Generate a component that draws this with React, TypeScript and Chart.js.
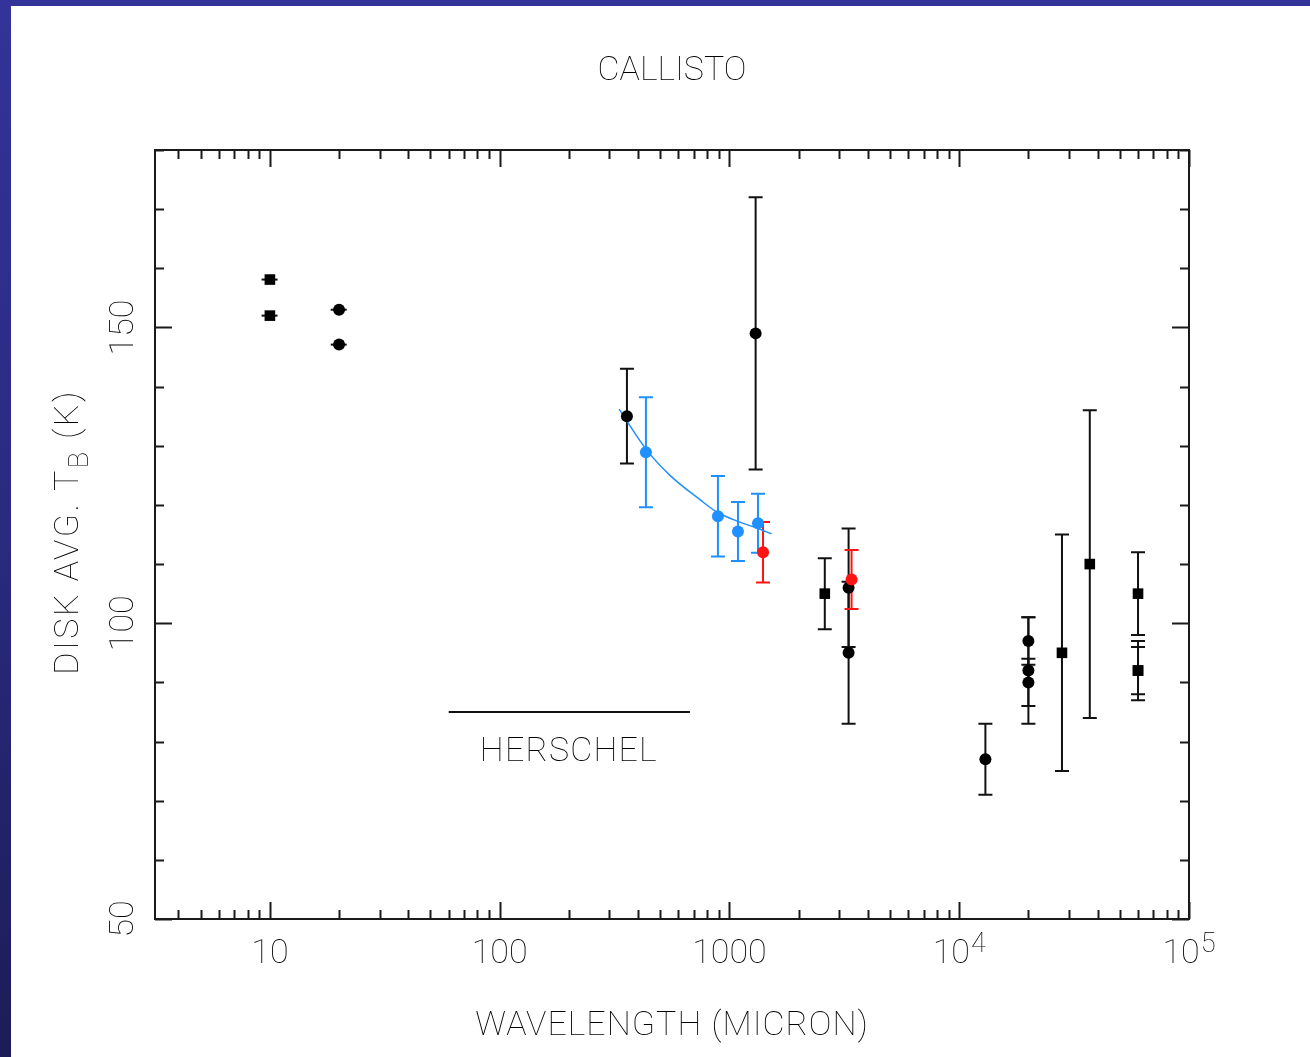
import React, { useEffect, useRef } from "react";
import { Chart, registerables } from "chart.js";

Chart.register(...registerables);

// ---------- text ----------
const CHART_TITLE = "CALLISTO";
const X_AXIS_TITLE = "WAVELENGTH (MICRON)";
const Y_AXIS_TITLE_MAIN = "DISK AVG. T";
const Y_AXIS_TITLE_SUB = "B";
const Y_AXIS_TITLE_END = " (K)";
const HERSCHEL_LABEL = "HERSCHEL";

// ---------- axes ----------
const X_MIN = 3.1623;
const X_MAX = 100000;
const Y_MIN = 50;
const Y_MAX = 180;
const X_TICK_VALUES = [10, 100, 1000, 10000, 100000];
const X_TICK_BASES = ["10", "100", "1000", "10", "10"];
const X_TICK_EXPONENTS = ["", "", "", "4", "5"];
const Y_TICK_VALUES = [50, 100, 150];
const Y_TICK_LABELS = ["50", "100", "150"];
const Y_MINOR_STEP = 10;

// ---------- data ----------
// black circles
const circleWavelength = [20, 20, 358, 1300, 3300, 3300, 13000, 20000, 20000, 20000];
const circleTemp = [153.0, 147.1, 135.0, 149.0, 106.0, 95.0, 77.0, 97.0, 92.0, 90.0];
const circleErr = [0, 0, 8, 23, 10, 12, 6, 4, 9, 4];
const circleWavelengthErr = [1.6, 1.6, 0, 0, 0, 0, 0, 0, 0, 0];

// black squares
const squareWavelength = [10, 10, 2600, 28000, 37000, 60000, 60000, 60000];
const squareTemp = [158.1, 152.0, 105.0, 95.0, 110.0, 105.0, 92.0, 92.0];
const squareErr = [0, 0, 6, 20, 26, 7, 5, 4];
const squareWavelengthErr = [0.8, 0.8, 0, 0, 0, 0, 0, 0];

// blue (Herschel)
const blueWavelength = [433, 891, 1089, 1331];
const blueTemp = [128.9, 118.1, 115.5, 116.9];
const blueErr = [9.3, 6.8, 5.0, 5.0];

// red
const redWavelength = [1400, 3400];
const redTemp = [112.0, 107.4];
const redErr = [5.1, 5.0];

// blue model curve
const modelWavelength = [331, 436, 551, 744, 880, 1111, 1313, 1527];
const modelTemp = [136.2, 129.3, 125.0, 120.9, 118.8, 117.1, 116.1, 115.1];

// Herschel range bar
const herschelWavelength = [60, 673];
const herschelTemp = [85, 85];
const herschelLabelWavelength = 200;
const herschelLabelTemp = 78.9;

const BLACK = "#111111";
const BLUE = "#1e90ff";
const RED = "#ff1414";
const FONT_FAMILY = "Roboto, 'Liberation Sans', sans-serif";
const FONT_WEIGHT = 100;
const FONT_SIZE = 34;

const pts = (xs: number[], ys: number[]) => xs.map((x, i) => ({ x, y: ys[i] }));

const decorPlugin = {
  id: "decor",
  beforeDatasetsDraw(chart: any) {
    const ctx = chart.ctx;
    const xs = chart.scales.x;
    const ys = chart.scales.y;
    const cap = 7;
    const all = chart.data.datasets;
    const list: number[] = [];
    all.forEach((d: any, i: number) => { if (d.errY) list.push(i); });
    list.sort((a, b) => (all[b].errOrder ?? 0) - (all[a].errOrder ?? 0));
    ctx.save();
    for (const i of list) {
      const ds = all[i];
      ctx.strokeStyle = ds.errColor;
      ctx.lineWidth = 2;
      ds.data.forEach((p: any, j: number) => {
        const e = ds.errY[j];
        const px = xs.getPixelForValue(p.x);
        if (e > 0) {
          const yt = ys.getPixelForValue(p.y + e);
          const yb = ys.getPixelForValue(p.y - e);
          ctx.beginPath();
          ctx.moveTo(px, yt);
          ctx.lineTo(px, yb);
          ctx.moveTo(px - cap, yt);
          ctx.lineTo(px + cap, yt);
          ctx.moveTo(px - cap, yb);
          ctx.lineTo(px + cap, yb);
          ctx.stroke();
        }
        const ex = ds.errX ? ds.errX[j] : 0;
        if (ex > 0) {
          const py = ys.getPixelForValue(p.y);
          ctx.beginPath();
          ctx.moveTo(xs.getPixelForValue(p.x - ex), py);
          ctx.lineTo(xs.getPixelForValue(p.x + ex), py);
          ctx.stroke();
        }
      });
    }
    ctx.restore();
  },
  afterDraw(chart: any) {
    const ctx = chart.ctx;
    const { left, right, top, bottom } = chart.chartArea;
    const xs = chart.scales.x;
    const ys = chart.scales.y;
    const font = (s: number) => `${FONT_WEIGHT} ${s}px ${FONT_FAMILY}`;
    ctx.save();
    // frame
    ctx.strokeStyle = "#1a1a1a";
    ctx.lineWidth = 2;
    ctx.strokeRect(left, top, right - left, bottom - top);
    // ticks
    const majorLen = 17;
    const minorLen = 9;
    ctx.beginPath();
    for (let d = 0; d <= 5; d++) {
      for (let m = 1; m <= 9; m++) {
        const v = m * Math.pow(10, d);
        if (v < X_MIN || v > X_MAX * 1.0001) continue;
        const px = Math.round(xs.getPixelForValue(v)) + 0.5;
        const len = m === 1 ? majorLen : minorLen;
        ctx.moveTo(px, bottom);
        ctx.lineTo(px, bottom - len);
        ctx.moveTo(px, top);
        ctx.lineTo(px, top + len);
      }
    }
    for (let v = Y_MIN; v <= Y_MAX; v += Y_MINOR_STEP) {
      const py = Math.round(ys.getPixelForValue(v)) + 0.5;
      const len = Y_TICK_VALUES.includes(v) ? majorLen : minorLen;
      ctx.moveTo(left, py);
      ctx.lineTo(left + len, py);
      ctx.moveTo(right, py);
      ctx.lineTo(right - len, py);
    }
    ctx.lineWidth = 2;
    ctx.stroke();

    ctx.fillStyle = "#000000";
    ctx.textBaseline = "alphabetic";
    // x tick labels
    X_TICK_VALUES.forEach((v, i) => {
      const px = xs.getPixelForValue(v);
      ctx.font = font(FONT_SIZE);
      const wb = ctx.measureText(X_TICK_BASES[i]).width;
      ctx.font = font(FONT_SIZE * 0.8);
      const we = X_TICK_EXPONENTS[i] ? ctx.measureText(X_TICK_EXPONENTS[i]).width + 1 : 0;
      const x0 = px - (wb + we) / 2;
      ctx.font = font(FONT_SIZE);
      ctx.textAlign = "left";
      ctx.fillText(X_TICK_BASES[i], x0, bottom + 44);
      if (we) {
        ctx.font = font(FONT_SIZE * 0.8);
        ctx.fillText(X_TICK_EXPONENTS[i], x0 + wb + 1, bottom + 33);
      }
    });
    // y tick labels (rotated)
    Y_TICK_VALUES.forEach((v, i) => {
      const py = ys.getPixelForValue(v);
      ctx.save();
      ctx.translate(left - 22, py);
      ctx.rotate(-Math.PI / 2);
      ctx.font = font(FONT_SIZE);
      ctx.textAlign = "center";
      ctx.fillText(Y_TICK_LABELS[i], 0, 0);
      ctx.restore();
    });
    // title
    ctx.font = font(FONT_SIZE);
    ctx.textAlign = "center";
    ctx.fillText(CHART_TITLE, (left + right) / 2, 80);
    // x axis title
    (ctx as any).letterSpacing = "1px";
    ctx.fillText(X_AXIS_TITLE, (left + right) / 2, bottom + 116);
    (ctx as any).letterSpacing = "0px";
    // y axis title with subscript
    ctx.save();
    (ctx as any).letterSpacing = "2.5px";
    ctx.font = font(FONT_SIZE);
    const w1 = ctx.measureText(Y_AXIS_TITLE_MAIN).width;
    const w3 = ctx.measureText(Y_AXIS_TITLE_END).width;
    ctx.font = font(FONT_SIZE * 0.8);
    const w2 = ctx.measureText(Y_AXIS_TITLE_SUB).width;
    const total = w1 + w2 + w3;
    const cy = 532;
    ctx.translate(78, cy + total / 2);
    ctx.rotate(-Math.PI / 2);
    ctx.textAlign = "left";
    ctx.font = font(FONT_SIZE);
    ctx.fillText(Y_AXIS_TITLE_MAIN, 0, 0);
    ctx.font = font(FONT_SIZE * 0.8);
    ctx.fillText(Y_AXIS_TITLE_SUB, w1, 10);
    ctx.font = font(FONT_SIZE);
    ctx.fillText(Y_AXIS_TITLE_END, w1 + w2, 0);
    (ctx as any).letterSpacing = "0px";
    ctx.restore();
    // Herschel label
    ctx.font = font(FONT_SIZE);
    (ctx as any).letterSpacing = "1.2px";
    ctx.textAlign = "center";
    ctx.fillText(
      HERSCHEL_LABEL,
      xs.getPixelForValue(herschelLabelWavelength),
      ys.getPixelForValue(herschelLabelTemp) + 13
    );
    (ctx as any).letterSpacing = "0px";
    ctx.restore();
  },
};

export default function App() {
  const ref = useRef<HTMLCanvasElement | null>(null);
  useEffect(() => {
    if (!ref.current) return;
    const chart = new Chart(ref.current, {
      type: "scatter",
      data: {
        datasets: [
          {
            label: "red",
            data: pts(redWavelength, redTemp),
            errY: redErr,
            errColor: RED,
            errOrder: 0,
            pointStyle: "circle",
            pointRadius: 6,
            backgroundColor: RED,
            borderColor: RED,
            borderWidth: 0,
          } as any,
          {
            label: "blue",
            data: pts(blueWavelength, blueTemp),
            errY: blueErr,
            errColor: BLUE,
            errOrder: 1,
            pointStyle: "circle",
            pointRadius: 6,
            backgroundColor: BLUE,
            borderColor: BLUE,
            borderWidth: 0,
          } as any,
          {
            label: "black circles",
            data: pts(circleWavelength, circleTemp),
            errY: circleErr,
            errX: circleWavelengthErr,
            errColor: BLACK,
            errOrder: 2,
            pointStyle: "circle",
            pointRadius: 6,
            backgroundColor: "#000",
            borderColor: "#000",
            borderWidth: 0,
          } as any,
          {
            label: "black squares",
            data: pts(squareWavelength, squareTemp),
            errY: squareErr,
            errX: squareWavelengthErr,
            errColor: BLACK,
            errOrder: 2,
            pointStyle: "rect",
            pointRadius: 7.5,
            backgroundColor: "#000",
            borderColor: "#000",
            borderWidth: 0,
          } as any,
          {
            label: "Herschel range",
            data: pts(herschelWavelength, herschelTemp),
            showLine: true,
            pointRadius: 0,
            borderColor: BLACK,
            borderWidth: 2,
          },
          {
            label: "model",
            data: pts(modelWavelength, modelTemp),
            showLine: true,
            pointRadius: 0,
            borderColor: BLUE,
            borderWidth: 1.5,
            cubicInterpolationMode: "monotone",
          } as any,
        ],
      },
      options: {
        responsive: false,
        animation: false,
        events: [],
        layout: { padding: { left: 155, top: 150, right: 121, bottom: 138 } },
        plugins: {
          legend: { display: false },
          title: { display: false },
          tooltip: { enabled: false },
        },
        scales: {
          x: { type: "logarithmic", min: X_MIN, max: X_MAX, display: false },
          y: { type: "linear", min: Y_MIN, max: Y_MAX, display: false },
        },
      },
      plugins: [decorPlugin],
    });
    return () => chart.destroy();
  }, []);

  return (
    <div style={{ position: "absolute", left: 0, top: 0, width: 1310, height: 1057, background: "#ffffff", overflow: "hidden" }}>
      <div style={{ position: "absolute", left: 0, top: 0, width: 1310, height: 6, background: "#333399" }} />
      <div
        style={{
          position: "absolute",
          left: 0,
          top: 0,
          width: 11,
          height: 1057,
          background: "linear-gradient(to bottom, #333399 0%, #2a2a80 50%, #1c1c58 100%)",
        }}
      />
      <canvas ref={ref} width={1310} height={1057} style={{ position: "absolute", left: 0, top: 0, width: 1310, height: 1057 }} />
    </div>
  );
}
